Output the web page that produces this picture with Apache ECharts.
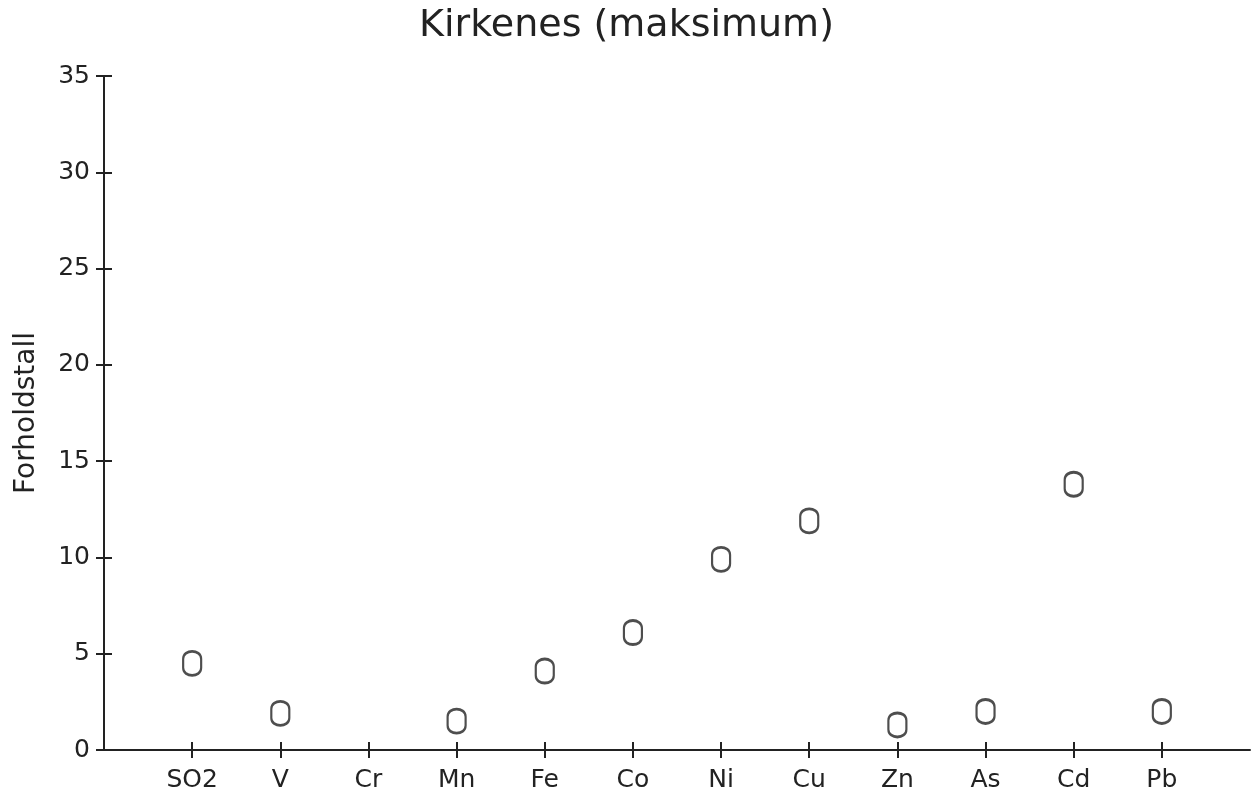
<!DOCTYPE html>
<html>
<head>
<meta charset="utf-8">
<script src="https://cdn.jsdelivr.net/npm/echarts@6/dist/echarts.min.js"></script>
<style>html,body{margin:0;padding:0;background:#fff}#c{width:1253px;height:794px}</style>
</head>
<body>
<div id="c"></div>
<script>
const titleText = 'Kirkenes (maksimum)';
const yName = 'Forholdstall';
const categories = ['', 'SO2', 'V', 'Cr', 'Mn', 'Fe', 'Co', 'Ni', 'Cu', 'Zn', 'As', 'Cd', 'Pb', ''];
const values = [null, 4.5, 1.9, null, 1.5, 4.1, 6.1, 9.9, 11.9, 1.3, 2.0, 13.8, 2.0, null];
const yMin = 0, yMax = 35, yStep = 5;

const ink = '#222';
const font = 'DejaVu Sans';
const tickShow = (i) => i > 0 && i < categories.length - 1;
const oval = 'path://M0,7 C0,-2 12,-2 12,7 L12,15 C12,24 0,24 0,15 Z';

const chart = echarts.init(document.getElementById('c'), null, {renderer: 'canvas'});
chart.setOption({
  backgroundColor: '#fff',
  animation: false,
  title: {
    text: titleText, left: 'center', top: 2,
    textStyle: {fontFamily: font, fontWeight: 'normal', fontSize: 38, color: ink}
  },
  grid: {left: 104, top: 76, bottom: 44, width: 1153},
  xAxis: [{
    type: 'category', data: categories, boundaryGap: false,
    axisLine: {lineStyle: {color: ink, width: 2}},
    axisTick: {show: true, length: 8, interval: tickShow, lineStyle: {color: ink, width: 2}},
    axisLabel: {interval: 0, margin: 18, fontFamily: font, fontSize: 25, color: ink},
    splitLine: {show: false}
  }, {
    type: 'category', data: categories, boundaryGap: false, position: 'bottom',
    axisLine: {show: false},
    axisTick: {show: true, inside: true, length: 8, interval: tickShow, lineStyle: {color: ink, width: 2}},
    axisLabel: {show: false}, splitLine: {show: false}
  }],
  yAxis: [{
    type: 'value', min: yMin, max: yMax, interval: yStep,
    name: yName, nameLocation: 'middle', nameGap: 63,
    nameTextStyle: {fontFamily: font, fontSize: 28, color: ink},
    axisLine: {show: true, lineStyle: {color: ink, width: 2}},
    axisTick: {show: true, length: 8, lineStyle: {color: ink, width: 2}},
    axisLabel: {margin: 14, fontFamily: font, fontSize: 25, color: ink},
    splitLine: {show: false}
  }, {
    type: 'value', min: yMin, max: yMax, interval: yStep, position: 'left',
    axisLine: {show: false},
    axisTick: {show: true, inside: true, length: 8, lineStyle: {color: ink, width: 2}},
    axisLabel: {show: false}, splitLine: {show: false}
  }],
  series: [{
    type: 'scatter', xAxisIndex: 0, yAxisIndex: 0,
    data: values,
    symbol: oval, symbolSize: [18, 24],
    itemStyle: {color: 'rgba(0,0,0,0)', borderColor: ink, borderWidth: 2.5}
  }]
});
</script>
</body>
</html>
